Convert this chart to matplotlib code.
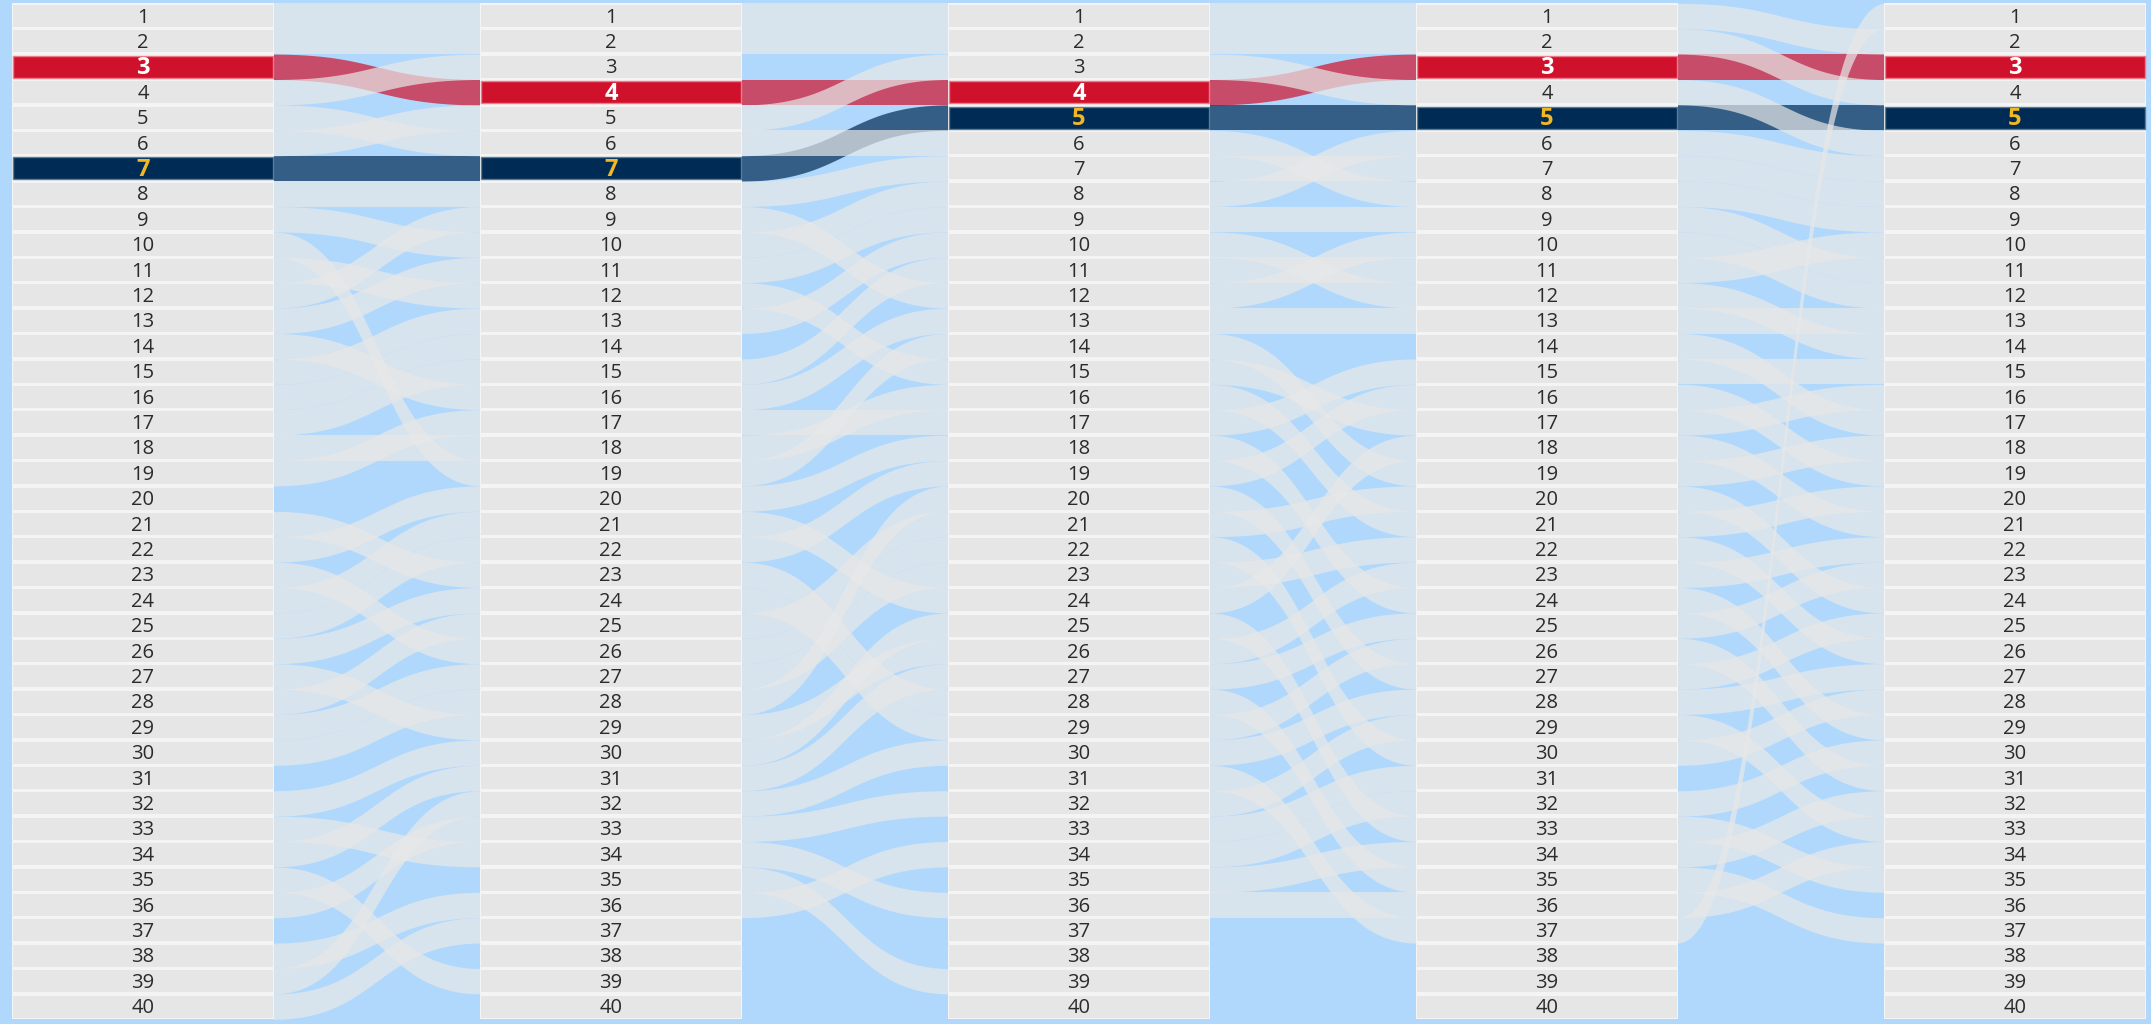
import numpy as np
import matplotlib.pyplot as plt
from matplotlib.patches import Rectangle

# ranks shown in every column
ranks = list(range(1, 41))
n_cols = 5

# the two highlighted teams: rank in each column
red_ranks = [3, 4, 4, 3, 3]
navy_ranks = [7, 7, 5, 5, 5]

# rank in column k -> rank in column k+1 (missing ranks = dropped / new)
links_1 = [(1, 1), (2, 2), (3, 4), (4, 3), (5, 6), (6, 5), (7, 7), (8, 8),
           (9, 10), (10, 19), (11, 12), (12, 9), (13, 11), (14, 16), (15, 13),
           (16, 14), (17, 15), (18, 18), (19, 17), (21, 23), (22, 20), (23, 26),
           (24, 21), (25, 22), (26, 24), (27, 29), (28, 25), (29, 27), (30, 28),
           (32, 30), (33, 34), (34, 31), (35, 39), (36, 33), (38, 36), (39, 32),
           (40, 37)]
links_2 = [(1, 1), (2, 2), (4, 4), (5, 3), (6, 6), (7, 5), (8, 7), (9, 12),
           (10, 8), (11, 9), (12, 15), (13, 10), (15, 11), (16, 13), (17, 17),
           (18, 16), (19, 14), (20, 18), (21, 24), (22, 19), (23, 28), (24, 29),
           (25, 21), (26, 22), (27, 23), (28, 20), (29, 26), (30, 25), (31, 27),
           (32, 30), (33, 32), (34, 36), (35, 39), (36, 34)]
links_3 = [(1, 1), (2, 2), (3, 4), (4, 3), (5, 5), (6, 8), (7, 7), (8, 6),
           (9, 9), (10, 12), (11, 11), (12, 10), (13, 13), (14, 19), (15, 17),
           (16, 21), (17, 15), (18, 24), (19, 16), (20, 27), (21, 20), (22, 30),
           (23, 22), (24, 18), (25, 33), (26, 23), (27, 25), (28, 35), (29, 26),
           (30, 28), (31, 37), (32, 29), (33, 31), (34, 32), (35, 34), (36, 36)]
links_4 = [(1, 2), (2, 4), (3, 3), (4, 6), (5, 5), (6, 7), (7, 8), (8, 9),
           (9, 11), (10, 12), (11, 10), (12, 14), (13, 13), (14, 17), (15, 15),
           (16, 19), (17, 16), (18, 21), (19, 18), (20, 24), (21, 20), (22, 26),
           (23, 22), (24, 29), (25, 23), (26, 31), (27, 25), (28, 27), (29, 33),
           (30, 28), (32, 30), (33, 35), (34, 32), (35, 37), (36, 34), (37, 1)]
all_links = [links_1, links_2, links_3, links_4]

bg = '#b0d8fc'
grey_box = '#e6e6e6'
red = '#d0112b'
navy = '#002b54'
gold = '#f2b824'

box_w = 260 / 468
box_h = 0.87

fig = plt.figure(figsize=(21.51, 10.24), dpi=100, facecolor=bg)
ax = fig.add_axes([0, 0, 1, 1])
ax.set_facecolor(bg)
ax.set_xlim(-13 / 468, (2151 - 13) / 468)
ax.set_ylim(1 + (1024 - 16) / 25.4, 1 - 16 / 25.4)
ax.axis('off')


def bez(u):
    # cubic bezier with both control points at the middle of the gap
    xf = 1.5 * u * (1 - u) + u ** 3
    yf = u * u * (3 - 2 * u)
    return xf, yf


u = np.linspace(0, 1, 120)
xf, yf = bez(u)

for k, links in enumerate(all_links):
    x0 = k + box_w
    x1 = k + 1
    xs = x0 + (x1 - x0) * xf
    hl = []
    for a, b in links:
        ytop = a - 0.5 + (b - a) * yf
        if a == red_ranks[k] and b == red_ranks[k + 1]:
            hl.append((ytop, red))
        elif a == navy_ranks[k] and b == navy_ranks[k + 1]:
            hl.append((ytop, navy))
    for ytop, c in hl:
        ax.fill_between(xs, ytop, ytop + 1, color=c, alpha=0.7, lw=0, zorder=1)
    for a, b in links:
        if (a == red_ranks[k] and b == red_ranks[k + 1]) or \
           (a == navy_ranks[k] and b == navy_ranks[k + 1]):
            continue
        ytop = a - 0.5 + (b - a) * yf
        ax.fill_between(xs, ytop, ytop + 1, color='#e8e8e8', alpha=0.7, lw=0, zorder=2)

# rank columns
for k in range(n_cols):
    ax.add_patch(Rectangle((k - 0.002, 0.5), box_w + 0.004, 40, facecolor='#f4f4f4',
                           edgecolor='none', zorder=3))
    for r in ranks:
        fc, tc, fw, fs = grey_box, '#2b2b2b', 'normal', 14.5
        ec = 'none'
        if r == red_ranks[k]:
            fc, tc, fw, fs, ec = red, 'white', 'bold', 17, '#f07a8a'
        elif r == navy_ranks[k]:
            fc, tc, fw, fs, ec = navy, gold, 'bold', 17, '#5a7a9a'
        ax.add_patch(Rectangle((k, r - box_h / 2), box_w, box_h, facecolor=fc,
                               edgecolor=ec, lw=1, zorder=4))
        ax.text(k + box_w / 2, r + 0.06, str(r), ha='center', va='center',
                color=tc, fontsize=fs, fontweight=fw, family=['Open Sans', 'DejaVu Sans'],
                zorder=5)

fig.savefig('out.png', dpi=100, facecolor=bg)
